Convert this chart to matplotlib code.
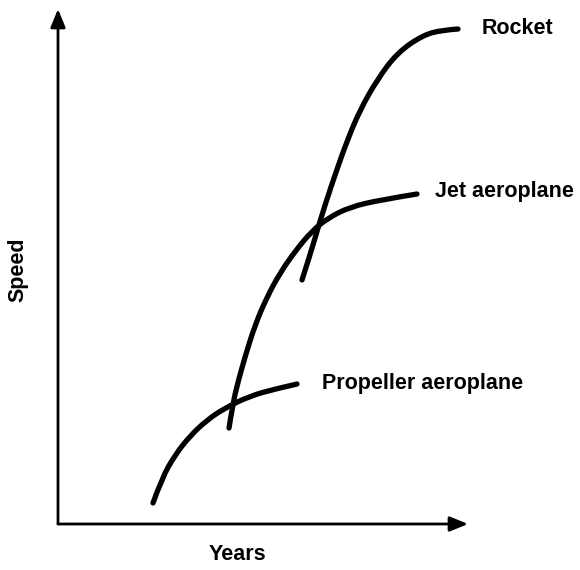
"""
speed of transport over the years - three overlapping S-curves
"""

import numpy as np
import matplotlib
matplotlib.use("Agg")
import matplotlib.pyplot as plt
from matplotlib.path import Path
from matplotlib.patches import PathPatch

# curve points (x = years, y = speed, arbitrary units)
propeller_x = [95, 104, 117, 132, 149, 167, 192, 217, 239]
propeller_y = [21, 46, 69, 88, 104, 116, 128, 135, 140]

jet_x = [171, 175, 180, 187, 197, 209, 222, 238, 254, 270, 292, 322, 359]
jet_y = [96, 121, 142, 167, 199, 227, 251, 274, 293, 306, 317, 324, 330]

rocket_x = [244, 252, 260, 268, 277, 289, 302, 319, 339, 365, 385, 400]
rocket_y = [244, 269, 296, 322, 349, 383, 414, 444, 471, 489, 494, 495]

labels = ["Propeller aeroplane", "Jet aeroplane", "Rocket"]
label_x = [264, 377, 424]
label_y = [141, 332, 496]


def smooth_path(xs, ys):
    # quadratic bezier through the midpoints, read points act as control points
    pts = np.column_stack([xs, ys]).astype(float)
    verts = [pts[0]]
    codes = [Path.MOVETO]
    for i in range(1, len(pts) - 1):
        mid = (pts[i] + pts[i + 1]) / 2 if i < len(pts) - 2 else pts[i + 1]
        verts += [pts[i], mid]
        codes += [Path.CURVE3, Path.CURVE3]
    return Path(verts, codes)


plt.rcParams['font.family'] = ['Liberation Sans', 'DejaVu Sans']

fig = plt.figure(figsize=(5.8, 5.7), dpi=100)
ax = fig.add_axes([0, 0, 1, 1])
# data coords: origin of the drawn axes at pixel (58, 524)
ax.set_xlim(-58, 522)
ax.set_ylim(-46, 524)
ax.axis('off')

# axes with arrows
arrow = dict(arrowstyle='-|>,head_width=0.45,head_length=1.1',
             color='black', lw=2, shrinkA=0, shrinkB=0)
ax.annotate('', xy=(0, 515), xytext=(0, 0), arrowprops=arrow)
ax.annotate('', xy=(410, 0), xytext=(0, 0), arrowprops=arrow)

for xs, ys in [(propeller_x, propeller_y), (jet_x, jet_y), (rocket_x, rocket_y)]:
    ax.add_patch(PathPatch(smooth_path(xs, ys), facecolor='none', edgecolor='black',
                           lw=3.8, capstyle='round', joinstyle='round'))

for t, lx, ly in zip(labels, label_x, label_y):
    ax.text(lx, ly, t, fontsize=15.5, fontweight='bold', ha='left', va='center')

ax.text(-40, 254, 'Speed', fontsize=15.5, fontweight='bold', rotation=90,
        ha='center', va='center')
ax.text(179, -31, 'Years', fontsize=15.5, fontweight='bold', ha='center', va='center')

plt.savefig('out.png', dpi=100)
